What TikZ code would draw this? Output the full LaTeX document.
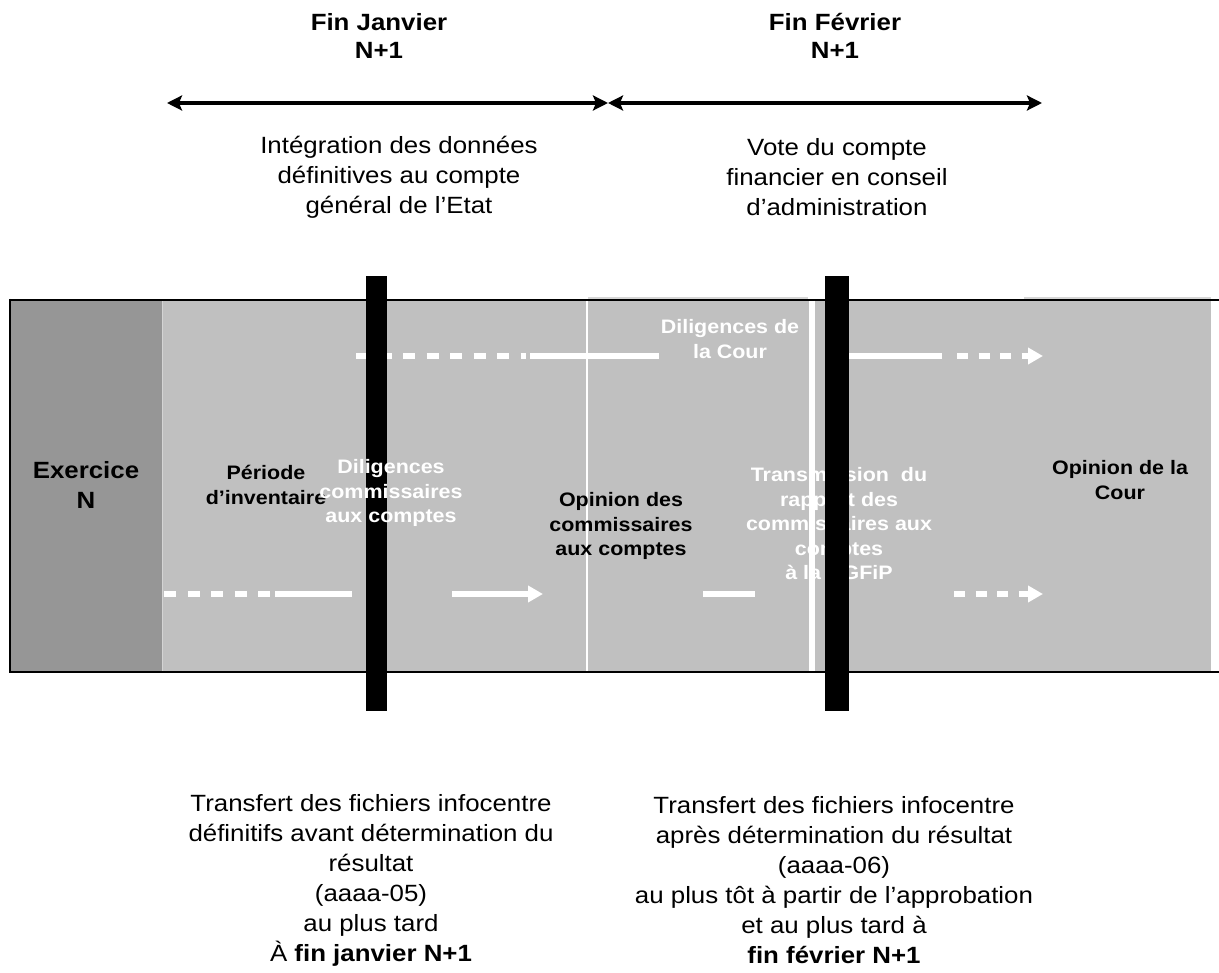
\documentclass[tikz,border=0pt]{standalone}
\usepackage{fontspec}
\setmainfont{Liberation Sans}[FakeStretch=1.1]
\usetikzlibrary{arrows.meta}
\definecolor{bandgray}{HTML}{C0C0C0}
\definecolor{exgray}{HTML}{969696}
\definecolor{sepgray}{HTML}{D4D4D4}
\definecolor{ghostgray}{HTML}{D6D6D6}
\tikzset{
  lbl/.style={align=center, inner sep=0pt, font=\fontsize{23.5}{30}\selectfont},
  ttl/.style={align=center, inner sep=0pt, font=\fontsize{23.5}{28}\selectfont\bfseries},
  bandlbl/.style={align=center, inner sep=0pt, font=\fontsize{19.5}{24.5}\selectfont\bfseries},
  exlbl/.style={align=center, inner sep=0pt, font=\fontsize{23.5}{30}\selectfont\bfseries},
  toparrow/.style={line width=4pt, {Stealth[length=15pt,width=15pt,inset=3pt]}-{Stealth[length=15pt,width=15pt,inset=3pt]}},
  wline/.style={white, line width=6pt},
  wdash/.style={white, line width=6pt, dash pattern=on 12pt off 11.5pt},
  wdashr/.style={white, line width=6pt, dash pattern=on 11pt off 10.5pt},
  whead/.style={-{Triangle[length=15pt,width=16pt]}},
  bar/.style={fill=black},
}
\begin{document}
\begin{tikzpicture}[x=1pt,y=-1pt]
\useasboundingbox (0,0) rectangle (1219,973);
% top labels
\node[ttl] (fj) at (379,36) {Fin Janvier\\N+1};
\node[ttl] (ff) at (835,36) {Fin Février\\N+1};
\coordinate (aL) at (167,103);
\coordinate (aM) at (608,103);
\coordinate (aR) at (1042,103);
\draw[toparrow] (aL) -- (aM);
\draw[toparrow] (aM) -- (aR);
\node[lbl] (integ) at (399,177) {Intégration des données\\définitives au compte\\général de l’Etat};
\node[lbl] (vote) at (837,177) {Vote du compte\\financier en conseil\\d’administration};
% band
\fill[bandgray] (162,300) rectangle (1211,672);
\fill[ghostgray] (1024,297) rectangle (1211,300);
\fill[ghostgray] (588,297) rectangle (808,300);
\fill[exgray] (10,300) rectangle (162,672);
\draw[sepgray, line width=1pt] (162.5,300) -- (162.5,672);
\draw[line width=2pt] (10,300) -- (1219,300);
\draw[line width=2pt] (10,672) -- (1219,672);
\draw[line width=1.5pt] (10,299) -- (10,673);
\draw[white, line width=2pt] (587,301) -- (587,671);
% white arrows, top row
\coordinate (t1) at (356,356);
\coordinate (t2) at (526,356);
\coordinate (t2b) at (530,356);
\coordinate (t3) at (659,356);
\coordinate (t4) at (834,356);
\coordinate (t5) at (942,356);
\coordinate (t6) at (957,356);
\coordinate (t7) at (1043,356);
\draw[wdash] (t1) -- (t2);
\draw[wline] (t2b) -- (t3);
\draw[wline] (t4) -- (t5);
\draw[wdashr, whead] (t6) -- (t7);
% white arrows, bottom row
\coordinate (b1) at (164,594);
\coordinate (b2) at (275,594);
\coordinate (b3) at (352,594);
\coordinate (b4) at (452,594);
\coordinate (b5) at (543,594);
\coordinate (b6) at (703,594);
\coordinate (b7) at (755,594);
\coordinate (b8) at (954,594);
\coordinate (b9) at (1043,594);
\draw[wdash] (b1) -- (b2);
\draw[wline] (b2) -- (b3);
\draw[wline, whead] (b4) -- (b5);
\draw[wline] (b6) -- (b7);
\draw[wdashr, whead] (b8) -- (b9);
% text under the second bar
\node[bandlbl, white] (trans) at (839,524) {Transmission\ \ du\\rapport des\\commissaires aux\\comptes\\à la DGFiP};
\draw[white, line width=6pt] (811.5,301) -- (811.5,671);
% black bars
\fill[bar] (366,276) rectangle (387,711);
\fill[bar] (825,276) rectangle (849,711);
% band labels
\node[exlbl] (ex) at (86,485) {Exercice\\N};
\node[bandlbl] (per) at (266,485) {Période\\d’inventaire};
\node[bandlbl, white] (dil) at (391,493) {Diligences\\commissaires\\aux comptes};
\node[bandlbl] (opc) at (621,526) {Opinion des\\commissaires\\aux comptes};
\node[bandlbl, white] (dc) at (730,339) {Diligences de\\la Cour};
\node[bandlbl] (oc) at (1120,480) {Opinion de la\\Cour};
% bottom labels
\node[lbl] (tl) at (371,880) {Transfert des fichiers infocentre\\définitifs avant détermination du\\résultat\\(aaaa-05)\\au plus tard\\À \textbf{fin janvier N+1}};
\node[lbl] (trr) at (834,880) {Transfert des fichiers infocentre\\après détermination du résultat\\(aaaa-06)\\au plus tôt à partir de l’approbation\\et au plus tard à\\\textbf{fin février N+1}};
\end{tikzpicture}
\end{document}
